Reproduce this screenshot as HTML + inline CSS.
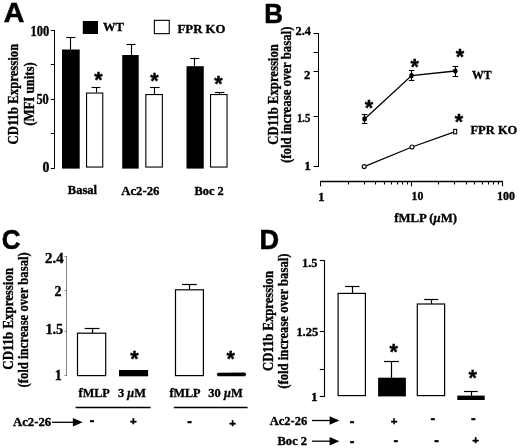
<!DOCTYPE html>
<html><head><meta charset="utf-8"><title>Figure</title>
<style>
html,body{margin:0;padding:0;background:#fff;}
body{width:520px;height:448px;overflow:hidden;}
svg{display:block;}
.t{font-family:"Liberation Serif","Times New Roman",serif;font-weight:bold;fill:#000;stroke:#000;stroke-width:0.35px;}
.p{font-family:"Liberation Sans",Arial,sans-serif;font-weight:bold;fill:#000;stroke:#000;stroke-width:0.6px;}
.s{font-family:"Liberation Sans",Arial,sans-serif;font-weight:bold;fill:#000;stroke:#000;stroke-width:0.4px;}
</style></head><body>
<svg width="520" height="448" viewBox="0 0 520 448">
<rect x="0" y="0" width="520" height="448" fill="#fff"/>

<g id="panelA">
<text class="p" x="3.8" y="21.8" font-size="28.5" text-anchor="start" >A</text>
<line x1="54.5" y1="30" x2="54.5" y2="168.8" stroke="#000" stroke-width="1" />
<line x1="50.8" y1="168.5" x2="54.5" y2="168.5" stroke="#000" stroke-width="1" />
<line x1="50.8" y1="133.5" x2="54.5" y2="133.5" stroke="#000" stroke-width="1" />
<line x1="50.8" y1="99.5" x2="54.5" y2="99.5" stroke="#000" stroke-width="1" />
<line x1="50.8" y1="64.5" x2="54.5" y2="64.5" stroke="#000" stroke-width="1" />
<line x1="50.8" y1="30.5" x2="54.5" y2="30.5" stroke="#000" stroke-width="1" />
<text class="t" x="49.3" y="35.8" font-size="13.8" text-anchor="end" textLength="18.8" lengthAdjust="spacingAndGlyphs" >100</text>
<text class="t" x="48.8" y="103.8" font-size="13.8" text-anchor="end" textLength="12.4" lengthAdjust="spacingAndGlyphs" >50</text>
<text class="t" x="49.3" y="172.3" font-size="13.8" text-anchor="end" >0</text>
<text class="t" x="18.3" y="94.1" font-size="13.8" text-anchor="middle" textLength="100.8" lengthAdjust="spacingAndGlyphs" transform="rotate(-90 18.3 94.1)" >CD11b Expression</text>
<text class="t" x="34" y="94" font-size="13.8" text-anchor="middle" textLength="63.6" lengthAdjust="spacingAndGlyphs" transform="rotate(-90 34 94)" >(MFI units)</text>
<line x1="70.5" y1="49.5" x2="70.5" y2="37.3" stroke="#000" stroke-width="1.1" />
<line x1="66.3" y1="37.5" x2="75.3" y2="37.5" stroke="#000" stroke-width="1.1" />
<rect x="62" y="49.5" width="17.70" height="119.10" fill="#000"/>
<line x1="96.5" y1="92.5" x2="96.5" y2="87" stroke="#000" stroke-width="1.1" />
<line x1="91.6" y1="87.5" x2="100.4" y2="87.5" stroke="#000" stroke-width="1.1" />
<rect x="86.55" y="93.05" width="16.20" height="74.00" fill="#fff" stroke="#000" stroke-width="1.1"/>
<line x1="131.5" y1="55" x2="131.5" y2="44.4" stroke="#000" stroke-width="1.1" />
<line x1="126.5" y1="44.5" x2="135.5" y2="44.5" stroke="#000" stroke-width="1.1" />
<rect x="122.2" y="55" width="16.50" height="113.60" fill="#000"/>
<line x1="154.5" y1="94" x2="154.5" y2="87" stroke="#000" stroke-width="1.1" />
<line x1="150.0" y1="87.5" x2="159.60000000000002" y2="87.5" stroke="#000" stroke-width="1.1" />
<rect x="145.85000000000002" y="94.55" width="16.50" height="72.50" fill="#fff" stroke="#000" stroke-width="1.1"/>
<line x1="194.5" y1="66.2" x2="194.5" y2="58" stroke="#000" stroke-width="1.1" />
<line x1="190.3" y1="58.5" x2="199.3" y2="58.5" stroke="#000" stroke-width="1.1" />
<rect x="186.5" y="66.2" width="17.25" height="102.40" fill="#000"/>
<line x1="219.5" y1="94" x2="219.5" y2="92.7" stroke="#000" stroke-width="1.1" />
<line x1="214.79999999999998" y1="92.5" x2="224.4" y2="92.5" stroke="#000" stroke-width="1.1" />
<rect x="210.55" y="94.55" width="16.50" height="72.50" fill="#fff" stroke="#000" stroke-width="1.1"/>
<text class="s" x="98.4" y="76.3" font-size="21.5" text-anchor="middle" dy="10.86">*</text>
<text class="s" x="154.4" y="77.5" font-size="21.5" text-anchor="middle" dy="10.86">*</text>
<text class="s" x="218.5" y="80.5" font-size="21.5" text-anchor="middle" dy="10.86">*</text>
<rect x="82.8" y="21" width="15.20" height="13.00" fill="#000"/>
<text class="t" x="103" y="31" font-size="13.2" text-anchor="start" textLength="21" lengthAdjust="spacingAndGlyphs" >WT</text>
<rect x="154.35000000000002" y="20.35" width="14.90" height="13.30" fill="#fff" stroke="#000" stroke-width="1.1"/>
<text class="t" x="177.5" y="33.3" font-size="13.2" text-anchor="start" textLength="48" lengthAdjust="spacingAndGlyphs" >FPR KO</text>
<text class="t" x="67.8" y="194.4" font-size="13.2" text-anchor="start" textLength="29.2" lengthAdjust="spacingAndGlyphs" >Basal</text>
<text class="t" x="121.2" y="194.5" font-size="13.2" text-anchor="start" textLength="38.2" lengthAdjust="spacingAndGlyphs" >Ac2-26</text>
<text class="t" x="194.5" y="194.5" font-size="13.2" text-anchor="start" textLength="29.3" lengthAdjust="spacingAndGlyphs" >Boc 2</text>
</g>
<g id="panelB">
<text class="p" x="264.2" y="23" font-size="28.5" text-anchor="start" textLength="18.7" lengthAdjust="spacingAndGlyphs" >B</text>
<line x1="318.5" y1="33.3" x2="318.5" y2="166.9" stroke="#000" stroke-width="1" />
<line x1="313.5" y1="33.5" x2="318.5" y2="33.5" stroke="#000" stroke-width="1" />
<line x1="313.5" y1="52.5" x2="318.5" y2="52.5" stroke="#000" stroke-width="1" />
<line x1="313.5" y1="71.5" x2="318.5" y2="71.5" stroke="#000" stroke-width="1" />
<line x1="313.5" y1="116.5" x2="318.5" y2="116.5" stroke="#000" stroke-width="1" />
<line x1="313.5" y1="166.5" x2="318.5" y2="166.5" stroke="#000" stroke-width="1" />
<text class="t" x="295.6" y="34.6" font-size="13.2" text-anchor="start" textLength="15.4" lengthAdjust="spacingAndGlyphs" >2.4</text>
<text class="t" x="304" y="79.4" font-size="13.2" text-anchor="start" textLength="6.3" lengthAdjust="spacingAndGlyphs" >2</text>
<text class="t" x="297" y="122" font-size="13.2" text-anchor="start" textLength="13.4" lengthAdjust="spacingAndGlyphs" >1.5</text>
<text class="t" x="304.3" y="170" font-size="13.2" text-anchor="start" >1</text>
<text class="t" x="278.3" y="94.4" font-size="13.8" text-anchor="middle" textLength="100.5" lengthAdjust="spacingAndGlyphs" transform="rotate(-90 278.3 94.4)" >CD11b Expression</text>
<text class="t" x="290.7" y="94.8" font-size="13.8" text-anchor="middle" textLength="136.4" lengthAdjust="spacingAndGlyphs" transform="rotate(-90 290.7 94.8)" >(fold increase over basal)</text>
<line x1="320" y1="181.5" x2="503" y2="181.5" stroke="#000" stroke-width="1.3" />
<line x1="320.5" y1="181.9" x2="320.5" y2="186.3" stroke="#000" stroke-width="1.1" />
<line x1="348.5" y1="181.9" x2="348.5" y2="184.5" stroke="#000" stroke-width="1.1" />
<line x1="364.5" y1="181.9" x2="364.5" y2="184.5" stroke="#000" stroke-width="1.1" />
<line x1="375.5" y1="181.9" x2="375.5" y2="184.5" stroke="#000" stroke-width="1.1" />
<line x1="384.5" y1="181.9" x2="384.5" y2="184.5" stroke="#000" stroke-width="1.1" />
<line x1="391.5" y1="181.9" x2="391.5" y2="184.5" stroke="#000" stroke-width="1.1" />
<line x1="397.5" y1="181.9" x2="397.5" y2="184.5" stroke="#000" stroke-width="1.1" />
<line x1="402.5" y1="181.9" x2="402.5" y2="184.5" stroke="#000" stroke-width="1.1" />
<line x1="407.5" y1="181.9" x2="407.5" y2="184.5" stroke="#000" stroke-width="1.1" />
<line x1="411.5" y1="181.9" x2="411.5" y2="186.3" stroke="#000" stroke-width="1.1" />
<line x1="438.5" y1="181.9" x2="438.5" y2="184.5" stroke="#000" stroke-width="1.1" />
<line x1="454.5" y1="181.9" x2="454.5" y2="184.5" stroke="#000" stroke-width="1.1" />
<line x1="466.5" y1="181.9" x2="466.5" y2="184.5" stroke="#000" stroke-width="1.1" />
<line x1="474.5" y1="181.9" x2="474.5" y2="184.5" stroke="#000" stroke-width="1.1" />
<line x1="482.5" y1="181.9" x2="482.5" y2="184.5" stroke="#000" stroke-width="1.1" />
<line x1="488.5" y1="181.9" x2="488.5" y2="184.5" stroke="#000" stroke-width="1.1" />
<line x1="493.5" y1="181.9" x2="493.5" y2="184.5" stroke="#000" stroke-width="1.1" />
<line x1="498.5" y1="181.9" x2="498.5" y2="184.5" stroke="#000" stroke-width="1.1" />
<line x1="502.5" y1="181.9" x2="502.5" y2="186.3" stroke="#000" stroke-width="1.1" />
<text class="t" x="321.3" y="200.5" font-size="13.2" text-anchor="middle" >1</text>
<text class="t" x="411.6" y="200.4" font-size="13.2" text-anchor="start" textLength="11.8" lengthAdjust="spacingAndGlyphs" >10</text>
<text class="t" x="497" y="200.4" font-size="13.2" text-anchor="start" textLength="18" lengthAdjust="spacingAndGlyphs" >100</text>
<text class="t" x="394.2" y="221.8" font-size="13.2" text-anchor="start" textLength="62.8" lengthAdjust="spacingAndGlyphs" >fMLP (<tspan font-style="italic">μ</tspan>M)</text>
<polyline points="364.6,118.9 411.6,75.6 455.3,71" fill="none" stroke="#000" stroke-width="1.3"/>
<line x1="364.5" y1="114.2" x2="364.5" y2="123.60000000000001" stroke="#000" stroke-width="1.1" />
<line x1="361.8" y1="114.5" x2="367.40000000000003" y2="114.5" stroke="#000" stroke-width="1.1" />
<line x1="361.8" y1="123.5" x2="367.40000000000003" y2="123.5" stroke="#000" stroke-width="1.1" />
<ellipse cx="364.6" cy="118.9" rx="2.3" ry="2.6" fill="#000"/>
<line x1="411.5" y1="70.89999999999999" x2="411.5" y2="80.3" stroke="#000" stroke-width="1.1" />
<line x1="408.8" y1="70.5" x2="414.40000000000003" y2="70.5" stroke="#000" stroke-width="1.1" />
<line x1="408.8" y1="80.5" x2="414.40000000000003" y2="80.5" stroke="#000" stroke-width="1.1" />
<ellipse cx="411.6" cy="75.6" rx="2.3" ry="2.6" fill="#000"/>
<line x1="455.5" y1="66" x2="455.5" y2="76" stroke="#000" stroke-width="1.1" />
<line x1="452.5" y1="66.5" x2="458.1" y2="66.5" stroke="#000" stroke-width="1.1" />
<line x1="452.5" y1="76.5" x2="458.1" y2="76.5" stroke="#000" stroke-width="1.1" />
<ellipse cx="455.3" cy="71" rx="2.3" ry="2.6" fill="#000"/>
<polyline points="364.2,166.6 412,147 455.2,131.6" fill="none" stroke="#000" stroke-width="1.3"/>
<circle cx="364.2" cy="166.6" r="2" fill="#fff" stroke="#000" stroke-width="1.1"/>
<circle cx="412" cy="147" r="2" fill="#fff" stroke="#000" stroke-width="1.1"/>
<rect x="453.7" y="129.4" width="3" height="4.4" fill="#fff" stroke="#000" stroke-width="1.1"/>
<text class="t" x="472" y="78.9" font-size="13.2" text-anchor="start" textLength="19.6" lengthAdjust="spacingAndGlyphs" >WT</text>
<text class="t" x="470.5" y="133.6" font-size="13.2" text-anchor="start" textLength="46.8" lengthAdjust="spacingAndGlyphs" >FPR KO</text>
<text class="s" x="369" y="104.5" font-size="21.5" text-anchor="middle" dy="10.86">*</text>
<text class="s" x="414.6" y="62.7" font-size="21.5" text-anchor="middle" dy="10.86">*</text>
<text class="s" x="460" y="53.4" font-size="21.5" text-anchor="middle" dy="10.86">*</text>
<text class="s" x="459" y="117.8" font-size="21.5" text-anchor="middle" dy="10.86">*</text>
</g>
<g id="panelC">
<text class="p" x="1.8" y="249" font-size="28.5" text-anchor="start" textLength="18.7" lengthAdjust="spacingAndGlyphs" >C</text>
<line x1="66.5" y1="256.2" x2="66.5" y2="376" stroke="#777" stroke-width="0.9" />
<line x1="64.5" y1="256.5" x2="66.9" y2="256.5" stroke="#777" stroke-width="0.9" />
<line x1="64.5" y1="290.5" x2="66.9" y2="290.5" stroke="#777" stroke-width="0.9" />
<line x1="64.5" y1="331.5" x2="66.9" y2="331.5" stroke="#777" stroke-width="0.9" />
<line x1="64.5" y1="375.5" x2="66.9" y2="375.5" stroke="#777" stroke-width="0.9" />
<text class="t" x="45.1" y="262.7" font-size="14.2" text-anchor="start" textLength="18.6" lengthAdjust="spacingAndGlyphs" >2.4</text>
<text class="t" x="54.5" y="295.5" font-size="14.2" text-anchor="start" textLength="7" lengthAdjust="spacingAndGlyphs" >2</text>
<text class="t" x="45.4" y="334.2" font-size="14.2" text-anchor="start" textLength="17.8" lengthAdjust="spacingAndGlyphs" >1.5</text>
<text class="t" x="54.8" y="380.3" font-size="14.2" text-anchor="start" >1</text>
<text class="t" x="13.3" y="318.8" font-size="13.8" text-anchor="middle" textLength="101.7" lengthAdjust="spacingAndGlyphs" transform="rotate(-90 13.3 318.8)" >CD11b Expression</text>
<text class="t" x="28" y="319.9" font-size="13.8" text-anchor="middle" textLength="135.3" lengthAdjust="spacingAndGlyphs" transform="rotate(-90 28 319.9)" >(fold increase over basal)</text>
<line x1="92.5" y1="333" x2="92.5" y2="328.8" stroke="#000" stroke-width="1.2" />
<line x1="84.7" y1="328.5" x2="99.5" y2="328.5" stroke="#000" stroke-width="1.2" />
<rect x="77.5" y="333.20000000000005" width="28.20" height="42.40" fill="#fff" stroke="#000" stroke-width="1.2"/>
<rect x="119" y="370" width="29.10" height="6.30" fill="#000"/>
<line x1="189.5" y1="289.5" x2="189.5" y2="284.2" stroke="#000" stroke-width="1.2" />
<line x1="182" y1="284.5" x2="196.9" y2="284.5" stroke="#000" stroke-width="1.2" />
<rect x="175.5" y="289.8" width="27.90" height="85.80" fill="#fff" stroke="#000" stroke-width="1.2"/>
<path d="M216.6,374.4 L218,372.8 L245,372.6 L246.3,374.4 L245,376.2 L218,376.2 Z" fill="#000"/>
<text class="s" x="134.4" y="355.1" font-size="21.5" text-anchor="middle" dy="10.86">*</text>
<text class="s" x="230.7" y="355.1" font-size="21.5" text-anchor="middle" dy="10.86">*</text>
<text class="t" x="78.6" y="397.4" font-size="13.2" text-anchor="start" textLength="31.2" lengthAdjust="spacingAndGlyphs" >fMLP</text>
<text class="t" x="118" y="397.4" font-size="13.2" text-anchor="start" textLength="28" lengthAdjust="spacingAndGlyphs" >3 <tspan font-style="italic">μ</tspan>M</text>
<text class="t" x="169.4" y="397.2" font-size="13.2" text-anchor="start" textLength="31.2" lengthAdjust="spacingAndGlyphs" >fMLP</text>
<text class="t" x="208.3" y="397.2" font-size="13.2" text-anchor="start" textLength="34.4" lengthAdjust="spacingAndGlyphs" >30 <tspan font-style="italic">μ</tspan>M</text>
<line x1="75.6" y1="407.5" x2="150.6" y2="407.5" stroke="#000" stroke-width="1.3" />
<line x1="173.8" y1="407.5" x2="247.6" y2="407.5" stroke="#000" stroke-width="1.3" />
<text class="t" x="13" y="425.9" font-size="13.2" text-anchor="start" textLength="38.2" lengthAdjust="spacingAndGlyphs" >Ac2-26</text>
<line x1="52" y1="422.3" x2="77.7" y2="422.3" stroke="#000" stroke-width="1.3"/>
<polygon points="82.7,422.3 72.9,418.0 72.9,426.6" fill="#000"/>
<text class="s" x="92.1" y="421.2" font-size="14" text-anchor="middle" dy="3.78">-</text>
<text class="s" x="133.4" y="420.6" font-size="11.5" text-anchor="middle" dy="3.97">+</text>
<text class="s" x="189.7" y="422" font-size="14" text-anchor="middle" dy="3.78">-</text>
<text class="s" x="232.5" y="423.4" font-size="11.5" text-anchor="middle" dy="3.97">+</text>
</g>
<g id="panelD">
<text class="p" x="259.5" y="249.4" font-size="28.5" text-anchor="start" textLength="19.6" lengthAdjust="spacingAndGlyphs" >D</text>
<line x1="324.5" y1="260.2" x2="324.5" y2="397" stroke="#000" stroke-width="1.1" />
<line x1="319.79999999999995" y1="260.5" x2="324.4" y2="260.5" stroke="#000" stroke-width="1.1" />
<line x1="319.79999999999995" y1="331.5" x2="324.4" y2="331.5" stroke="#000" stroke-width="1.1" />
<line x1="319.79999999999995" y1="369.5" x2="324.4" y2="369.5" stroke="#000" stroke-width="1.1" />
<line x1="319.79999999999995" y1="396.5" x2="324.4" y2="396.5" stroke="#000" stroke-width="1.1" />
<text class="t" x="302" y="266.9" font-size="13.2" text-anchor="start" textLength="15.4" lengthAdjust="spacingAndGlyphs" >1.5</text>
<text class="t" x="296.4" y="335.8" font-size="13.2" text-anchor="start" textLength="21.8" lengthAdjust="spacingAndGlyphs" >1.25</text>
<text class="t" x="311.1" y="400.5" font-size="13.2" text-anchor="start" >1</text>
<text class="t" x="273.3" y="321" font-size="13.8" text-anchor="middle" textLength="100" lengthAdjust="spacingAndGlyphs" transform="rotate(-90 273.3 321)" >CD11b Expression</text>
<text class="t" x="288" y="321.1" font-size="13.8" text-anchor="middle" textLength="135.2" lengthAdjust="spacingAndGlyphs" transform="rotate(-90 288 321.1)" >(fold increase over basal)</text>
<line x1="352.5" y1="293" x2="352.5" y2="286" stroke="#000" stroke-width="1.2" />
<line x1="345" y1="286.5" x2="359.5" y2="286.5" stroke="#000" stroke-width="1.2" />
<rect x="338.1" y="293.40000000000003" width="27.30" height="102.20" fill="#fff" stroke="#000" stroke-width="1.2"/>
<line x1="391.5" y1="378" x2="391.5" y2="361.7" stroke="#000" stroke-width="1.2" />
<line x1="384" y1="361.5" x2="398.9" y2="361.5" stroke="#000" stroke-width="1.2" />
<rect x="378.1" y="377.7" width="27.80" height="18.70" fill="#000"/>
<line x1="431.5" y1="304" x2="431.5" y2="299.4" stroke="#000" stroke-width="1.2" />
<line x1="424.2" y1="299.5" x2="438.3" y2="299.5" stroke="#000" stroke-width="1.2" />
<rect x="417.3" y="304.0" width="27.30" height="91.60" fill="#fff" stroke="#000" stroke-width="1.2"/>
<line x1="471.5" y1="396" x2="471.5" y2="391.4" stroke="#000" stroke-width="1.2" />
<line x1="464" y1="391.5" x2="477.7" y2="391.5" stroke="#000" stroke-width="1.2" />
<rect x="457.3" y="395.6" width="27.40" height="4.40" fill="#000"/>
<text class="s" x="393.6" y="348.4" font-size="21.5" text-anchor="middle" dy="10.86">*</text>
<text class="s" x="472.6" y="374.6" font-size="21.5" text-anchor="middle" dy="10.86">*</text>
<text class="t" x="269.8" y="425.4" font-size="13.2" text-anchor="start" textLength="37.4" lengthAdjust="spacingAndGlyphs" >Ac2-26</text>
<line x1="312" y1="420.5" x2="334.4" y2="420.5" stroke="#000" stroke-width="1.3"/>
<polygon points="339.4,420.5 329.59999999999997,416.2 329.59999999999997,424.8" fill="#000"/>
<text class="t" x="277.5" y="445" font-size="13.2" text-anchor="start" textLength="29.6" lengthAdjust="spacingAndGlyphs" >Boc 2</text>
<line x1="312" y1="441.2" x2="334.4" y2="441.2" stroke="#000" stroke-width="1.3"/>
<polygon points="339.4,441.2 329.59999999999997,436.9 329.59999999999997,445.5" fill="#000"/>
<text class="s" x="352" y="422.3" font-size="14" text-anchor="middle" dy="3.78">-</text>
<text class="s" x="352" y="442" font-size="14" text-anchor="middle" dy="3.78">-</text>
<text class="s" x="394" y="421.2" font-size="11.5" text-anchor="middle" dy="3.97">+</text>
<text class="s" x="395.9" y="441.2" font-size="14" text-anchor="middle" dy="3.78">-</text>
<text class="s" x="432.9" y="418.8" font-size="14" text-anchor="middle" dy="3.78">-</text>
<text class="s" x="436.6" y="441.2" font-size="14" text-anchor="middle" dy="3.78">-</text>
<text class="s" x="473.4" y="418.8" font-size="14" text-anchor="middle" dy="3.78">-</text>
<text class="s" x="475.6" y="440.4" font-size="11.5" text-anchor="middle" dy="3.97">+</text>
</g>
</svg></body></html>
